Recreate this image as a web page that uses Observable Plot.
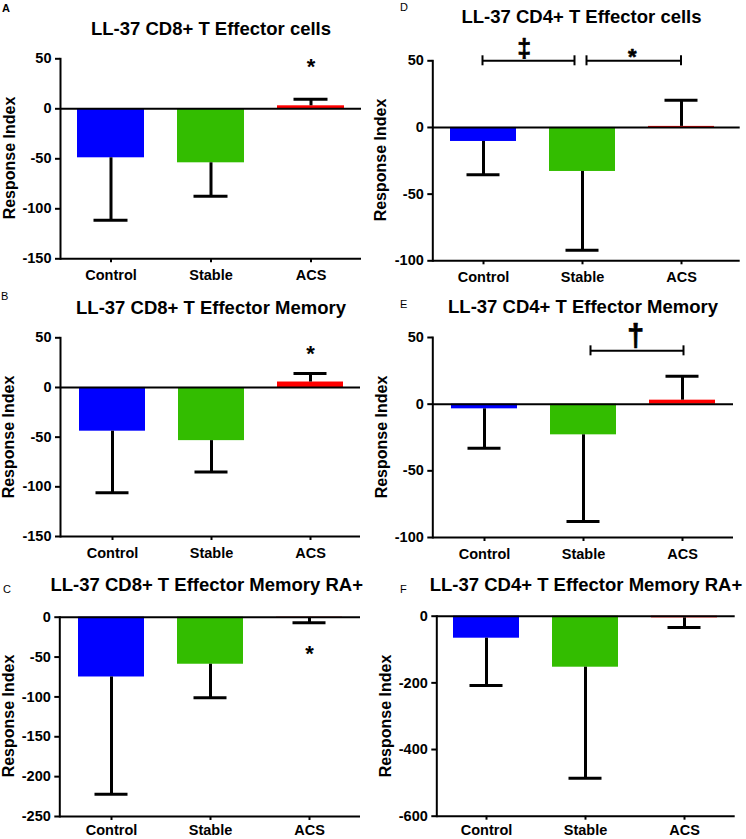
<!DOCTYPE html>
<html><head><meta charset="utf-8">
<script src="https://cdn.jsdelivr.net/npm/d3@7"></script>
<script src="https://cdn.jsdelivr.net/npm/@observablehq/plot@0.6"></script>
<style>
body{margin:0;background:#fff;font-family:"Liberation Sans",Arial,sans-serif;}
#fig{position:relative;width:746px;height:839px;overflow:hidden;background:#fff;}
.cell{position:absolute;width:373px;}
.cell svg{position:absolute;left:0;top:0;overflow:visible;}
.title{position:absolute;font-weight:bold;font-size:18.5px;line-height:1;white-space:nowrap;transform:translate(-50%,-50%);color:#000;}
.letter{position:absolute;font-size:11px;line-height:1;transform:translateY(-50%);color:#000;}
.ylab{position:absolute;font-weight:bold;font-size:16px;line-height:1;white-space:nowrap;transform:translate(-50%,-50%) rotate(-90deg);color:#000;}
</style></head><body><div id="fig"></div>
<script>
// ---------- data ----------
const groups = ["Control", "Stable", "ACS"];
const groupColors = ["#0000ff", "#33bd00", "#ff0000"];

const meansA = [-49, -54, 3];
const errsA  = [-111.5, -87.5, 9.5];
const meansB = [-44, -53.5, 5.5];
const errsB  = [-106, -85, 14];
const meansC = [-75, -59, -1];
const errsC  = [-222, -101, -7];
const meansD = [-10.5, -33, 0.8];
const errsD  = [-35.5, -92, 20.5];
const meansE = [-3.5, -23, 3];
const errsE  = [-33, -88, 21];
const meansF = [-66, -153, -5];
const errsF  = [-208, -486, -34];

const ticksAB = [50, 0, -50, -100, -150];
const ticksDE = [50, 0, -50, -100];
const ticksC  = [0, -50, -100, -150, -200, -250];
const ticksF  = [0, -200, -400, -600];

const titles = {
  A: "LL-37 CD8+ T Effector cells",
  B: "LL-37 CD8+ T Effector Memory",
  C: "LL-37 CD8+ T Effector Memory RA+",
  D: "LL-37 CD4+ T Effector cells",
  E: "LL-37 CD4+ T Effector Memory",
  F: "LL-37 CD4+ T Effector Memory RA+"
};
const yLabel = "Response Index";

const starsA = [{group: "ACS", y: 46.6, label: "*"}];
const starsB = [{group: "ACS", y: 38.4, label: "*"}];
const starsC = [{group: "ACS", y: -39.6, label: "*"}];
const bracketsD = [
  {from: "Control", to: "Stable", y: 50, label: "\u2021", ly: 60},
  {from: "Stable", to: "ACS", y: 50, label: "*", ly: 57}
];
const bracketsE = [
  {from: "Stable", to: "ACS", y: 40, label: "\u2020", ly: 51}
];

// ---------- layout ----------
const panels = [
  {id: "A", left: 0, top: 0, H: 280, means: meansA, errs: errsA, domain: [-150, 50], ticks: ticksAB,
   ml: 60, mr: 12, mt: 58.3, mb: 21.7, po: 0.17, align: 0.5, stars: starsA, xpad: 7,
   titleXY: [211, 29], letterXY: [2, 8], ylabXY: [10, 158]},
  {id: "D", left: 373, top: 0, H: 280, means: meansD, errs: errsD, domain: [-100, 50], ticks: ticksDE,
   ml: 59.3, mr: 6.3, mt: 60.3, mb: 19.7, po: 0.21, align: 0.4, brackets: bracketsD, xpad: 7,
   bracketStyle: [{il: 33, ir: 41, dxTo: -8, dxFrom: -1, tdx: 40.7, fs: 25, dy: 2}, {il: 37, ir: 33.5, dxTo: -0.5, dxFrom: 4, tdx: 49.7, fs: 22, dy: 5}],
   titleXY: [208.5, 16.7], letterXY: [27, 6.5], ylabXY: [7.5, 160]},
  {id: "B", left: 0, top: 280, H: 280, means: meansB, errs: errsB, domain: [-150, 50], ticks: ticksAB,
   ml: 60, mr: 13, mt: 57.3, mb: 24, po: 0.17, align: 0.52, stars: starsB, xpad: 7,
   titleXY: [211, 28.3], letterXY: [1, 16], ylabXY: [9, 157]},
  {id: "E", left: 373, top: 280, H: 280, means: meansE, errs: errsE, domain: [-100, 50], ticks: ticksDE,
   ml: 59.3, mr: 13, mt: 57, mb: 23, po: 0.17, align: 0.52, brackets: bracketsE, xpad: 7,
   bracketStyle: [{il: 40, ir: 32, dxTo: 1, dxFrom: 7, tdx: 52, fs: 31, dy: 0}],
   titleXY: [210, 26.7], letterXY: [27, 24], ylabXY: [9, 157]},
  {id: "C", left: 0, top: 560, H: 279, means: meansC, errs: errsC, domain: [-250, 0], ticks: ticksC,
   ml: 59.3, mr: 13, mt: 56.7, mb: 23, po: 0.17, align: 0.52, stars: starsC, xpad: 4.5,
   titleXY: [206.7, 25], letterXY: [3, 29], ylabXY: [8.5, 156]},
  {id: "F", left: 373, top: 560, H: 279, means: meansF, errs: errsF, domain: [-600, 0], ticks: ticksF,
   ml: 63.3, mr: 11.3, mt: 55.7, mb: 23.3, po: 0.157, align: 0.5, xpad: 4.5,
   titleXY: [213, 25], letterXY: [27, 29], ylabXY: [12.5, 156]}
];

const fig = document.getElementById("fig");
const font = "'Liberation Sans', Arial, sans-serif";

for (const p of panels) {
  const rows = groups.map((g, i) => ({group: g, mean: p.means[i], err: p.errs[i]}));
  const marks = [
    Plot.barY(rows, {x: "group", y: "mean", fill: "group"}),
    Plot.ruleX(rows, {x: "group", y1: "mean", y2: "err", stroke: "#000", strokeWidth: 3}),
    Plot.tickY(rows, {x: "group", y: "err", stroke: "#000", strokeWidth: 3, insetLeft: 16.5, insetRight: 16.5}),
    Plot.ruleY([0], {stroke: "#000", strokeWidth: 2}),
    Plot.ruleY([p.domain[0]], {stroke: "#000", strokeWidth: 2}),
    Plot.frame({anchor: "left", stroke: "#000", strokeWidth: 2}),
    Plot.axisY({ticks: p.ticks, tickFormat: d => String(d), tickSize: 5, tickPadding: 4, fontSize: 14.5, fontWeight: "bold", label: null, strokeWidth: 2, stroke: "#000", fill: "#000"}),
    Plot.axisX({tickSize: 4, tickPadding: p.xpad, fontSize: 14.5, fontWeight: "bold", label: null, strokeWidth: 2, stroke: "#000", fill: "#000"})
  ];
  if (p.stars) {
    marks.push(Plot.text(p.stars, {x: "group", y: "y", text: "label", fontSize: 22, fontWeight: "bold", lineAnchor: "middle", dy: 5, fill: "#000"}));
  }
  if (p.brackets) {
    p.brackets.forEach((b, i) => {
      const s = p.bracketStyle[i];
      marks.push(Plot.ruleY([b], {y: "y", x1: "from", x2: "to", insetLeft: s.il, insetRight: s.ir, stroke: "#000", strokeWidth: 2}));
      marks.push(Plot.ruleX([b], {x: "from", y1: d => d.y - 3.75, y2: d => d.y + 3.75, dx: s.dxFrom, stroke: "#000", strokeWidth: 2}));
      marks.push(Plot.ruleX([b], {x: "to", y1: d => d.y - 3.75, y2: d => d.y + 3.75, dx: s.dxTo, stroke: "#000", strokeWidth: 2}));
      marks.push(Plot.text([b], {x: "from", y: "ly", text: "label", dx: s.tdx, dy: s.dy, fontSize: s.fs, fontWeight: "bold", lineAnchor: "middle", fill: "#000", stroke: "#000", strokeWidth: 0.6}));
    });
  }
  const chart = Plot.plot({
    width: 373,
    height: p.H,
    marginLeft: p.ml, marginRight: p.mr, marginTop: p.mt, marginBottom: p.mb,
    style: {fontFamily: font, background: "transparent", overflow: "visible", color: "#000"},
    x: {domain: groups, paddingInner: 0.33, paddingOuter: p.po, align: p.align},
    y: {domain: p.domain},
    color: {domain: groups, range: groupColors},
    marks
  });
  const cell = document.createElement("div");
  cell.className = "cell";
  cell.style.left = p.left + "px";
  cell.style.top = p.top + "px";
  cell.style.height = p.H + "px";
  cell.appendChild(chart);

  const t = document.createElement("div");
  t.className = "title";
  t.textContent = titles[p.id];
  t.style.left = p.titleXY[0] + "px";
  t.style.top = p.titleXY[1] + "px";
  cell.appendChild(t);

  const l = document.createElement("div");
  l.className = "letter";
  l.textContent = p.id;
  l.style.left = p.letterXY[0] + "px";
  l.style.top = p.letterXY[1] + "px";
  if (p.id === "A") l.style.fontWeight = "bold";
  cell.appendChild(l);

  const yl = document.createElement("div");
  yl.className = "ylab";
  yl.textContent = yLabel;
  yl.style.left = p.ylabXY[0] + "px";
  yl.style.top = p.ylabXY[1] + "px";
  cell.appendChild(yl);

  fig.appendChild(cell);
}
</script>
</body></html>
